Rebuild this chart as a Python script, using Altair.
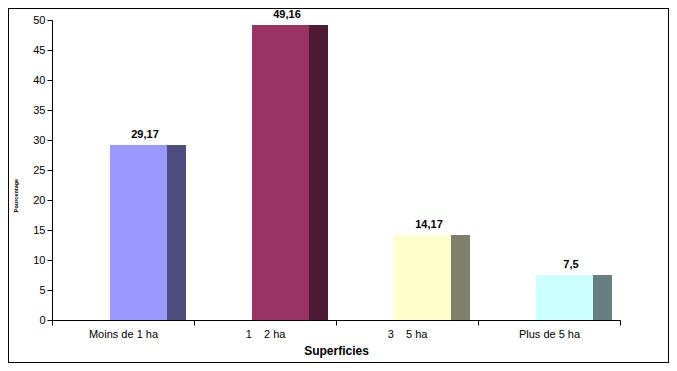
import altair as alt
import pandas as pd

categories = ["Moins de 1 ha", "1\u00a0\u00a0\u00a0\u00a02 ha", "3\u00a0\u00a0\u00a0\u00a05 ha", "Plus de 5 ha"]
values = [29.17, 49.16, 14.17, 7.5]
labels = ["29,17", "49,16", "14,17", "7,5"]
front_colors = ["#9999FF", "#993366", "#FFFFCC", "#CCFFFF"]
side_colors = ["#4D4D80", "#4D1A33", "#80806A", "#668080"]
y_ticks = [0, 5, 10, 15, 20, 25, 30, 35, 40, 45, 50]

df = pd.DataFrame({"cat": categories, "val": values, "lab": labels})

FONT = "Liberation Sans"
W, H = 568, 300
PL, PT = 44, 12
PR, PB = 661 - PL - W, 355 - PT - H

x = alt.X(
    "cat:N",
    sort=categories,
    scale=alt.Scale(paddingInner=0, paddingOuter=0),
    axis=alt.Axis(
        title="Superficies",
        titleFont=FONT,
        titleFontSize=12,
        titleFontWeight="bold",
        titlePadding=6,
        labelFont=FONT,
        labelFontSize=11,
        labelColor="#000000",
        labelAngle=0,
        labelPadding=3,
        tickBand="extent",
        tickSize=5,
        tickColor="#000000",
        domainColor="#000000",
        grid=False,
    ),
)
y = alt.Y(
    "val:Q",
    scale=alt.Scale(domain=[0, 50], nice=False),
    axis=alt.Axis(
        title="Pourcentage",
        titleFont=FONT,
        titleFontSize=5.5,
        titleFontWeight="bold",
        titleX=-34,
        titleY=175,
        titleAngle=270,
        values=y_ticks,
        labelFont=FONT,
        labelFontSize=11,
        labelColor="#000000",
        labelPadding=2,
        labelOverlap=False,
        tickSize=5,
        tickColor="#000000",
        domainColor="#000000",
        grid=False,
    ),
)

base = alt.Chart(df)

front = base.mark_bar(width=57, xOffset=15.5).encode(
    x=x,
    y=y,
    color=alt.Color("cat:N", scale=alt.Scale(domain=categories, range=front_colors), legend=None),
)
side = base.mark_bar(width=19, xOffset=53.5).encode(
    x=x,
    y=y,
    color=alt.Color("cat:N", scale=alt.Scale(domain=categories, range=side_colors), legend=None),
)
text = base.mark_text(
    xOffset=22, dy=-10, font=FONT, fontSize=11, fontWeight="bold", color="#000000"
).encode(
    x=x,
    y=y,
    text="lab:N",
)
border = base.mark_rect(
    fill=None, stroke="#000000", strokeWidth=1, clip=False
).encode(
    x=alt.value(-PL + 0.5),
    x2=alt.value(W + PR - 0.5),
    y=alt.value(-PT + 0.5),
    y2=alt.value(H + PB - 0.5),
)

chart = (
    alt.layer(front, side, text, border)
    .resolve_scale(color="independent")
    .properties(
        width=W,
        height=H,
        autosize=alt.AutoSizeParams(type="none"),
        padding={"left": PL, "top": PT, "right": PR, "bottom": PB},
        background="#FFFFFF",
    )
    .configure_view(stroke=None)
)

chart.save("out.html", embed_options={"renderer": "svg", "actions": False})
